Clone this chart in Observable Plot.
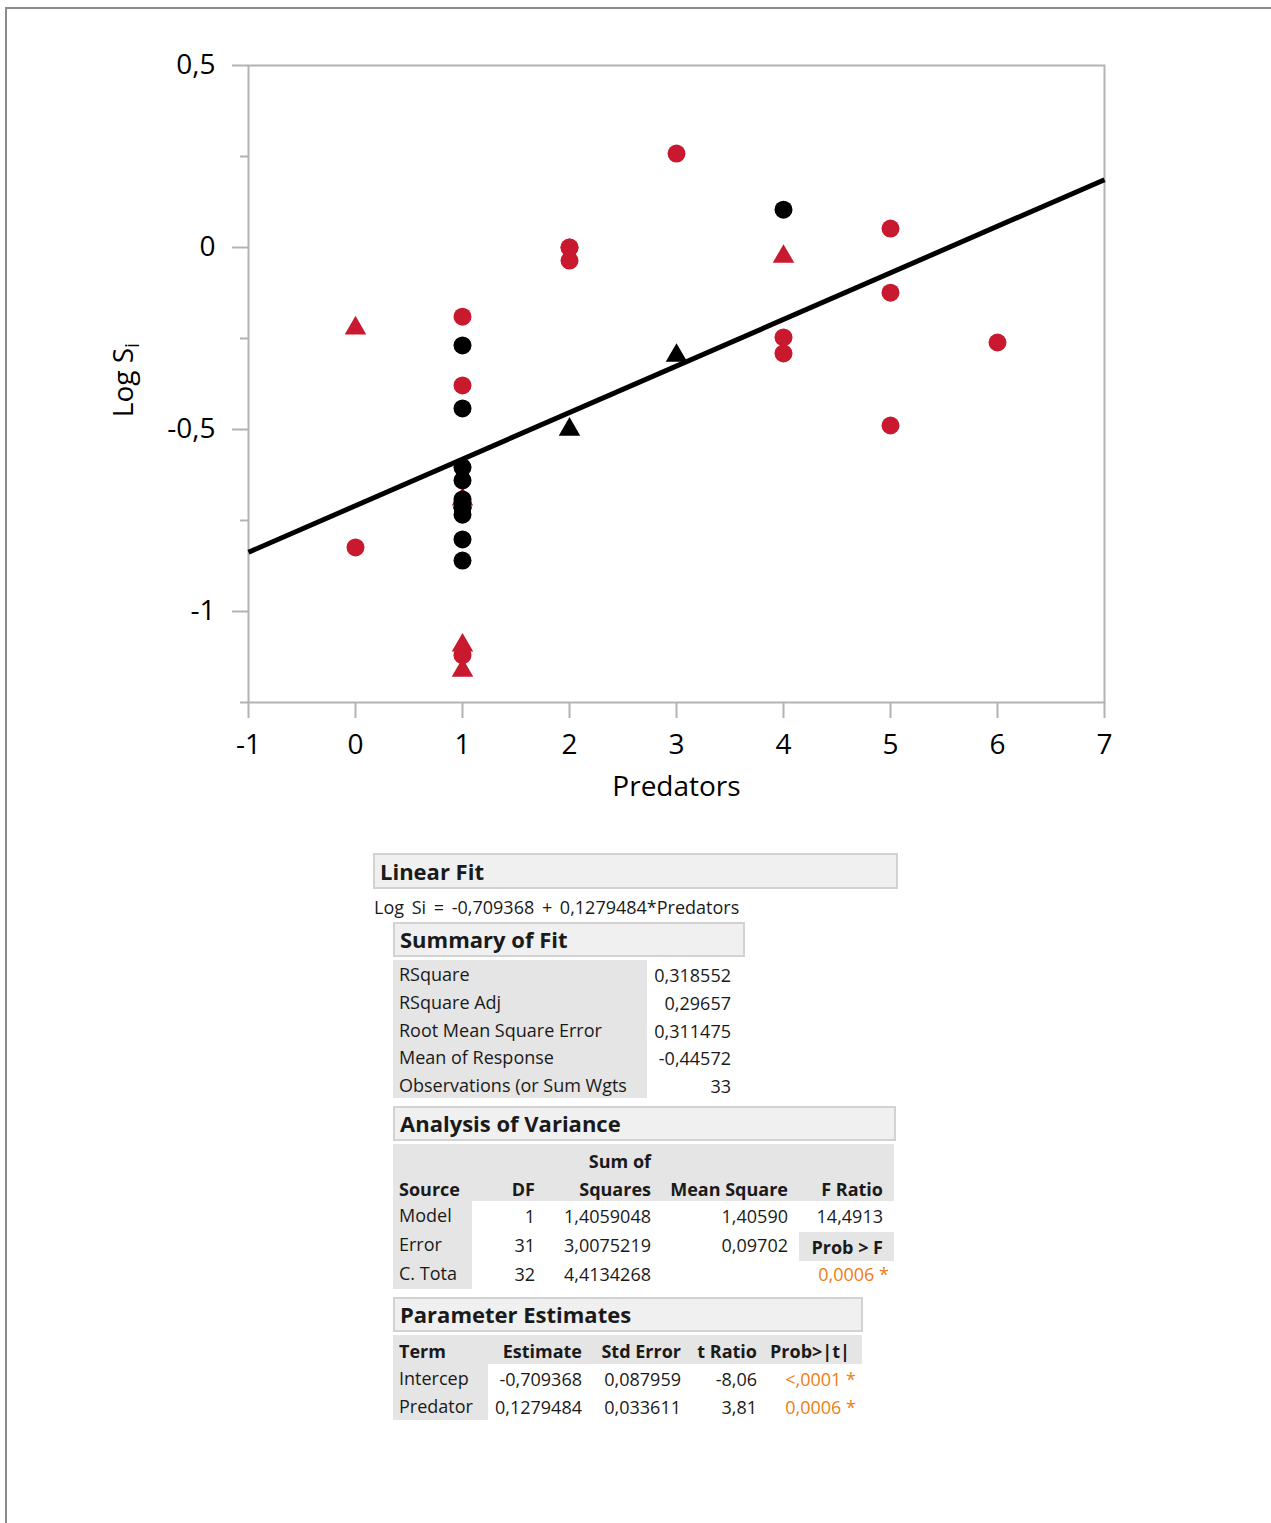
<!DOCTYPE html>
<html><head><meta charset="utf-8">
<script src="https://cdn.jsdelivr.net/npm/d3@7"></script>
<script src="https://cdn.jsdelivr.net/npm/@observablehq/plot@0.6"></script>
<style>
html,body{margin:0;padding:0;background:#fff;}
#page{position:relative;width:1271px;height:1523px;overflow:hidden;font-family:"Open Sans",sans-serif;color:#1a1a1a;}
#outer{position:absolute;left:5px;top:7px;right:-10px;bottom:-10px;border-left:2px solid #8c8c8c;border-top:2px solid #8c8c8c;}
#chart{position:absolute;left:0;top:0;}
.hdr{position:absolute;box-sizing:border-box;background:#f0f0f0;border:2px solid #d2d2d2;font-weight:700;font-size:22px;padding-left:5px;white-space:nowrap;}
.bg{position:absolute;background:#e5e5e5;}
.t{position:absolute;font-size:18px;white-space:nowrap;line-height:28px;height:28px;}
</style></head><body><div id="page"><div id="outer"></div><div id="chart"></div></div>
<script>
// ---------- chart data ----------
const redCircleX = [0, 1, 1, 1, 2, 2, 2, 3, 4, 4, 5, 5, 5, 6];
const redCircleY = [-0.824, -0.190, -0.379, -1.12, 0.0, -0.036, 0.0, 0.258, -0.247, -0.291, 0.052, -0.124, -0.489, -0.261];
const redTriangleX = [0, 1, 1, 1, 4];
const redTriangleY = [-0.222, -0.692, -1.093, -1.162, -0.025];
const blackCircleX = [1, 1, 1, 1, 1, 1, 1, 1, 1, 1, 1, 4];
const blackCircleY = [-0.269, -0.442, -0.604, -0.640, -0.692, -0.700, -0.714, -0.714, -0.734, -0.802, -0.860, 0.104];
const blackTriangleX = [2, 3];
const blackTriangleY = [-0.5, -0.297];
const fitIntercept = -0.709368;
const fitSlope = 0.1279484;
const xTicks = [-1, 0, 1, 2, 3, 4, 5, 6, 7];
const yMajorTicks = [-1, -0.5, 0, 0.5];
const yMinorTicks = [-1.25, -0.75, -0.25, 0.25];
const xDomain = [-1, 7];
const yDomain = [-1.25, 0.5];

// ---------- report data ----------
const fitEquation = "Log Si = -0,709368 + 0,1279484*Predators";
const summaryLabels = ["RSquare", "RSquare Adj", "Root Mean Square Error", "Mean of Response", "Observations (or Sum Wgts"];
const summaryValues = ["0,318552", "0,29657", "0,311475", "-0,44572", "33"];
const anovaSources = ["Model", "Error", "C. Tota"];
const anovaDF = ["1", "31", "32"];
const anovaSS = ["1,4059048", "3,0075219", "4,4134268"];
const anovaMS = ["1,40590", "0,09702", ""];
const anovaFRatio = "14,4913";
const anovaProb = "0,0006 *";
const paramTerms = ["Intercep", "Predator"];
const paramEstimate = ["-0,709368", "0,1279484"];
const paramStdErr = ["0,087959", "0,033611"];
const paramT = ["-8,06", "3,81"];
const paramProb = ["<,0001 *", "0,0006 *"];

const RED = "#c8192e";
const GRAY = "#b3b3b3";
const fmt = d => String(d).replace(".", ",");
const pts = (xs, ys) => xs.map((x, i) => ({x, y: ys[i]}));
const fitLine = xDomain.map(x => ({x, y: fitIntercept + fitSlope * x}));

const plot = Plot.plot({
  width: 1271, height: 830,
  marginLeft: 248, marginRight: 167, marginTop: 65, marginBottom: 128,
  x: {domain: xDomain},
  y: {domain: yDomain},
  style: {fontFamily: "'Open Sans', sans-serif", fontSize: "28px", color: "black", background: "transparent"},
  marks: [
    Plot.frame({stroke: GRAY, strokeWidth: 2}),
    Plot.axisY({ticks: yMajorTicks, tickSize: 16, tickPadding: 17, tickFormat: fmt, stroke: GRAY, strokeWidth: 2, fill: "black", label: null, fontSize: 28}),
    Plot.axisY({ticks: yMinorTicks, tickSize: 8, tickFormat: () => "", stroke: GRAY, strokeWidth: 2, label: null}),
    Plot.axisX({ticks: xTicks, tickSize: 16, tickPadding: 16, tickFormat: fmt, stroke: GRAY, strokeWidth: 2, fill: "black", label: null, fontSize: 28}),
    Plot.text(["Predators"], {frameAnchor: "bottom", lineAnchor: "middle", dy: 85, text: d => d, fontSize: 28, fill: "black"}),
    Plot.line(fitLine, {x: "x", y: "y", stroke: "black", strokeWidth: 5, strokeLinecap: "butt"}),
    Plot.dot(pts(redCircleX, redCircleY), {x: "x", y: "y", r: 9, fill: RED}),
    Plot.dot(pts(redTriangleX, redTriangleY), {x: "x", y: "y", r: 8, symbol: "triangle", fill: RED}),
    Plot.dot(pts(blackCircleX, blackCircleY), {x: "x", y: "y", r: 9, fill: "black"}),
    Plot.dot(pts(blackTriangleX, blackTriangleY), {x: "x", y: "y", r: 8, symbol: "triangle", fill: "black"})
  ]
});
document.getElementById("chart").appendChild(plot);

// y axis label with subscript
const ylab = d3.select(plot).append("text")
  .attr("transform", "translate(133,380) rotate(-90)")
  .attr("text-anchor", "middle")
  .attr("font-family", "'Open Sans', sans-serif")
  .attr("font-size", 28)
  .attr("fill", "black");
ylab.append("tspan").text("Log S");
ylab.append("tspan").attr("font-size", 20).attr("dy", 6).text("i");

// ---------- report ----------
const page = document.getElementById("page");
function place(txt, x, yc, opts = {}) {
  const d = document.createElement("div");
  d.className = "t";
  d.textContent = txt;
  d.style.top = (yc - 14) + "px";
  if (opts.align === "right") d.style.right = (1271 - x) + "px";
  else d.style.left = x + "px";
  if (opts.bold) d.style.fontWeight = "700";
  if (opts.color) d.style.color = opts.color;
  if (opts.wordSpacing) d.style.wordSpacing = opts.wordSpacing;
  page.appendChild(d);
}
function header(txt, x1, y1, x2, y2) {
  const d = document.createElement("div");
  d.className = "hdr";
  d.textContent = txt;
  d.style.left = x1 + "px"; d.style.top = y1 + "px";
  d.style.width = (x2 - x1) + "px"; d.style.height = (y2 - y1) + "px";
  d.style.lineHeight = (y2 - y1 - 4) + "px";
  page.appendChild(d);
}
function bg(x1, y1, x2, y2) {
  const d = document.createElement("div");
  d.className = "bg";
  d.style.left = x1 + "px"; d.style.top = y1 + "px";
  d.style.width = (x2 - x1) + "px"; d.style.height = (y2 - y1) + "px";
  page.appendChild(d);
}
const ORANGE = "#ee7d12";

header("Linear Fit", 373, 853, 898, 889);
place(fitEquation, 374, 907, {wordSpacing: "3px"});
header("Summary of Fit", 393, 922, 745, 957);
bg(393, 960, 647, 1098);
summaryLabels.forEach((s, i) => {
  const yc = 974 + i * 27.8;
  place(s, 399, yc);
  place(summaryValues[i], 731, yc + 1, {align: "right"});
});

header("Analysis of Variance", 393, 1106, 896, 1141);
bg(393, 1144, 894, 1201);
bg(393, 1201, 472, 1289);
bg(799, 1232, 894, 1261);
place("Sum of", 651, 1161, {align: "right", bold: true});
place("Source", 399, 1189, {bold: true});
place("DF", 535, 1189, {align: "right", bold: true});
place("Squares", 651, 1189, {align: "right", bold: true});
place("Mean Square", 788, 1189, {align: "right", bold: true});
place("F Ratio", 883, 1189, {align: "right", bold: true});
anovaSources.forEach((s, i) => {
  const yc = 1216 + i * 29;
  place(s, 399, yc - 1);
  place(anovaDF[i], 535, yc, {align: "right"});
  place(anovaSS[i], 651, yc, {align: "right"});
  if (anovaMS[i]) place(anovaMS[i], 788, yc, {align: "right"});
});
place(anovaFRatio, 883, 1216, {align: "right"});
place("Prob > F", 883, 1247, {align: "right", bold: true});
place(anovaProb, 889, 1274, {align: "right", color: ORANGE});

header("Parameter Estimates", 393, 1297, 863, 1332);
bg(393, 1335, 862, 1364);
bg(393, 1364, 488, 1420);
place("Term", 399, 1351, {bold: true});
place("Estimate", 582, 1351, {align: "right", bold: true});
place("Std Error", 681, 1351, {align: "right", bold: true});
place("t Ratio", 757, 1351, {align: "right", bold: true});
place("Prob>|t|", 850, 1351, {align: "right", bold: true});
paramTerms.forEach((s, i) => {
  const yc = 1379 + i * 27.5;
  place(s, 399, yc - 1);
  place(paramEstimate[i], 582, yc, {align: "right"});
  place(paramStdErr[i], 681, yc, {align: "right"});
  place(paramT[i], 757, yc, {align: "right"});
  place(paramProb[i], 856, yc, {align: "right", color: ORANGE});
});
</script></body></html>
